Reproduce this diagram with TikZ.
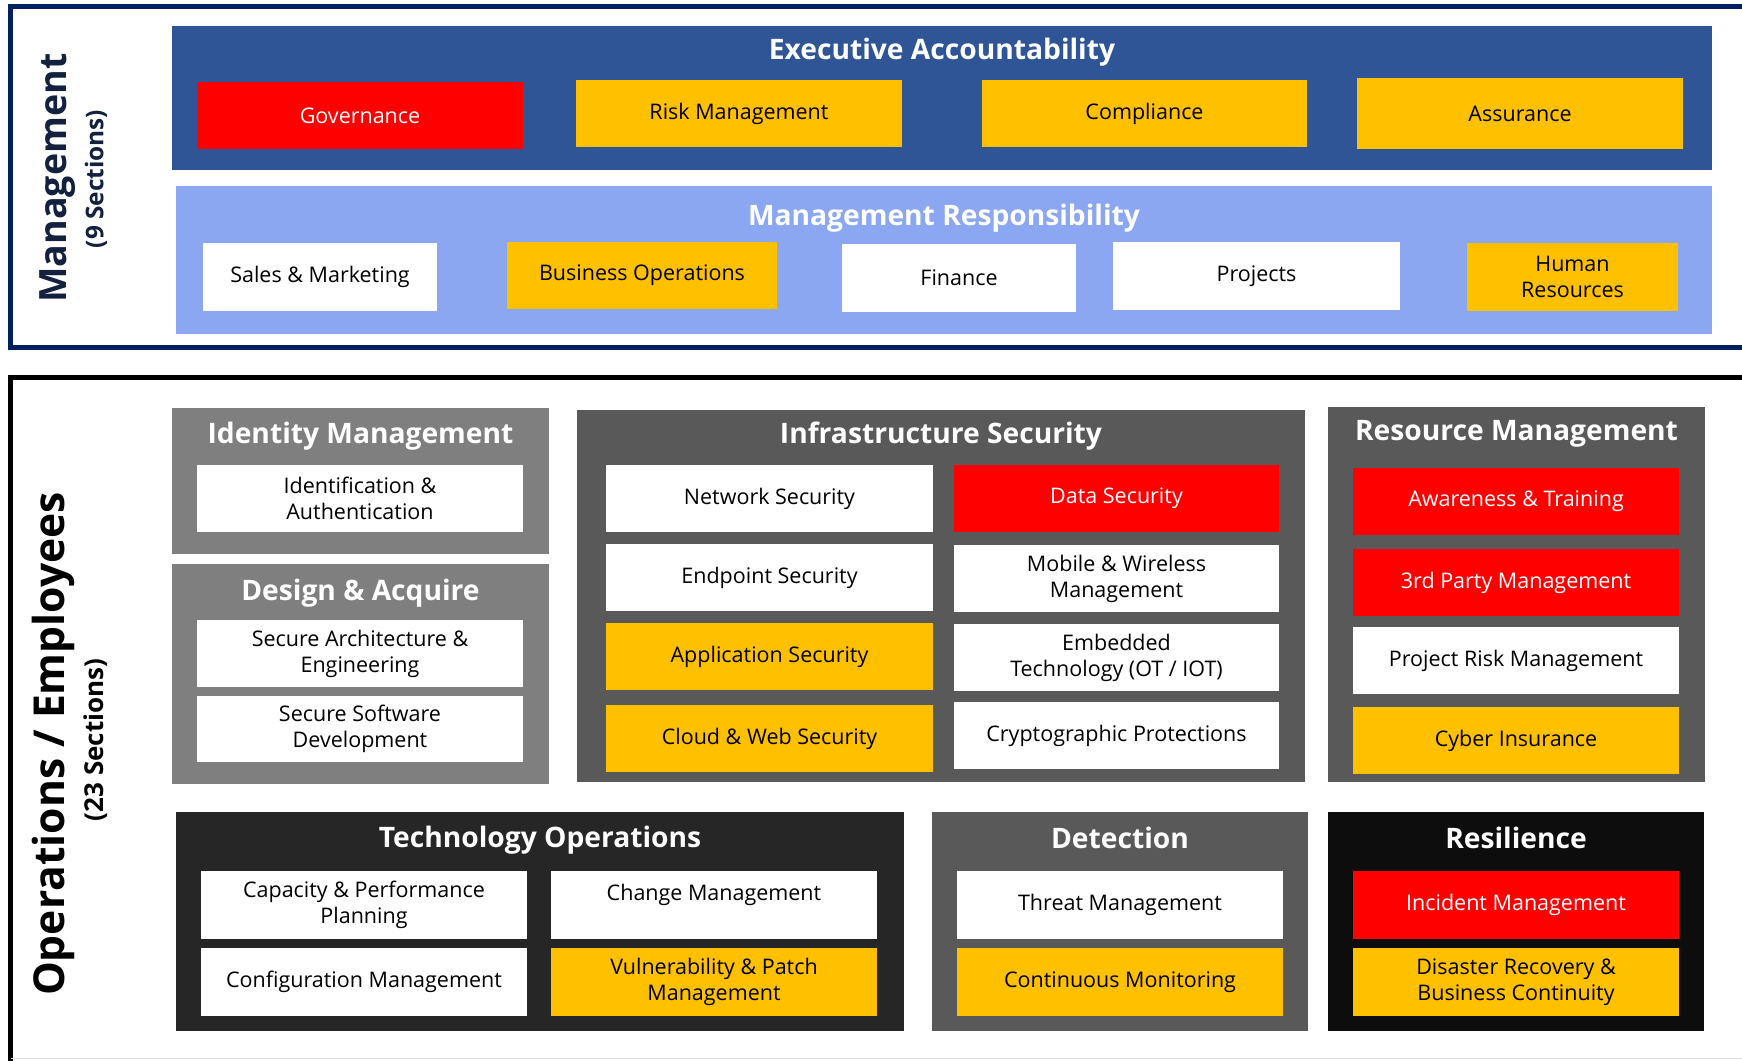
\documentclass[tikz,border=0pt]{standalone}
\usepackage{fontspec}
\setmainfont{Open Sans}
\usetikzlibrary{positioning}
\definecolor{framenavy}{HTML}{002060}
\definecolor{labelnavy}{HTML}{13213F}
\definecolor{execblue}{HTML}{2F5597}
\definecolor{respblue}{HTML}{8BA7F2}
\definecolor{alertred}{HTML}{FF0000}
\definecolor{amber}{HTML}{FFC000}
\definecolor{midgray}{HTML}{7F7F7F}
\definecolor{darkgray}{HTML}{595959}
\definecolor{coalgray}{HTML}{262626}
\definecolor{nearblack}{HTML}{0D0D0D}
\tikzset{
  cellbox/.style={fill=white, text=black, inner sep=0pt, align=center,
    minimum width=326pt, minimum height=67pt,
    font=\fontsize{21.5}{26}\selectfont},
  redbox/.style={cellbox, fill=alertred, text=white},
  yellowbox/.style={cellbox, fill=amber},
  panel/.style={inner sep=0pt, minimum width=377pt, minimum height=219pt},
  paneltitle/.style={text=white, inner sep=0pt,
    font=\bfseries\fontsize{28.2}{33}\selectfont},
  sidelabel/.style={rotate=90, inner sep=0pt, font=\bfseries\fontsize{37.6}{42}\selectfont},
  sidenote/.style={rotate=90, inner sep=0pt, font=\bfseries\fontsize{24.4}{28}\selectfont}
}
\begin{document}
\begin{tikzpicture}[x=1pt, y=-1pt]
  \useasboundingbox (0,0) rectangle (1742,1060);
  \clip (0,0) rectangle (1742,1060);
  % outer frames
  \draw[framenavy, line width=5pt] (1760,6.5) -- (10,6.5) -- (10,347.5) -- (1760,347.5);
  \draw[black, line width=5pt] (1760,377) -- (10.5,377) -- (10.5,1070);
  \draw[black!13, line width=1.5pt] (10.5,1058.5) -- (1742,1058.5);
  \node[sidelabel, text=labelnavy] (mgmtlabel) at (58,178) {Management};
  \node[sidenote, text=labelnavy] (mgmtnote) at (96,179) {(9 Sections)};
  \node[sidelabel, font=\bfseries\fontsize{42.6}{46}\selectfont] (opslabel) at (53,744) {Operations / Employees};
  \node[sidenote, font=\bfseries\fontsize{26}{30}\selectfont] (opsnote) at (96,740) {(23 Sections)};

  % executive accountability
  \node[panel, fill=execblue, minimum width=1540pt, minimum height=144pt] (exec) at (942,98) {};
  \node[paneltitle] (exectitle) at ([yshift=-26pt]exec.north) {Executive Accountability};
  \node[redbox] (governance) at (360,115.5) {Governance};
  \node[yellowbox] (risk) at (739,113.5) {Risk Management};
  \node[yellowbox, minimum width=325pt] (compliance) at (1144.5,113.5) {Compliance};
  \node[yellowbox, minimum height=71pt] (assurance) at (1520,113.5) {Assurance};

  % management responsibility
  \node[panel, fill=respblue, minimum width=1536pt, minimum height=148pt] (resp) at (944,260) {};
  \node[paneltitle] (resptitle) at ([yshift=-32pt]resp.north) {Management Responsibility};
  \node[cellbox, minimum width=234pt, minimum height=68pt] (sales) at (320,277) {Sales \& Marketing};
  \node[yellowbox, minimum width=270pt] (busops) at (642,275.5) {Business Operations};
  \node[cellbox, minimum width=234pt, minimum height=68pt] (finance) at (959,278) {Finance};
  \node[cellbox, minimum width=287pt, minimum height=68pt] (projects) at (1256.5,276) {Projects};
  \node[yellowbox, minimum width=211pt, minimum height=68pt] (hr) at (1572.5,277) {Human\\Resources};

  % identity management
  \node[panel, fill=midgray, minimum height=146pt] (identity) at (360.5,481) {};
  \node[paneltitle] (identitytitle) at ([yshift=-28pt]identity.north) {Identity Management};
  \node[cellbox] (idauth) at (360,498.5) {Identification \&\\Authentication};

  % design & acquire
  \node[panel, fill=midgray, minimum height=220pt] (design) at (360.5,674) {};
  \node[paneltitle] (designtitle) at ([yshift=-29pt]design.north) {Design \& Acquire};
  \node[cellbox] (secarch) at (360,653.5) {Secure Architecture \&\\Engineering};
  \node[cellbox, minimum height=66pt] (secsw) at (360,729) {Secure Software\\Development};

  % infrastructure security
  \node[panel, fill=darkgray, minimum width=728pt, minimum height=372pt] (infra) at (941,596) {};
  \node[paneltitle] (infratitle) at ([yshift=-26pt]infra.north) {Infrastructure Security};
  \node[cellbox, minimum width=327pt] (network) at (769.5,498.5) {Network Security};
  \node[cellbox, minimum width=327pt] (endpoint) at (769.5,577.5) {Endpoint Security};
  \node[yellowbox, minimum width=327pt] (appsec) at (769.5,656.5) {Application Security};
  \node[yellowbox, minimum width=327pt] (cloud) at (769.5,738.5) {Cloud \& Web Security};
  \node[redbox, minimum width=325pt] (datasec) at (1116.5,498.5) {Data Security};
  \node[cellbox, minimum width=325pt] (mobile) at (1116.5,578.5) {Mobile \& Wireless\\Management};
  \node[cellbox, minimum width=325pt] (embedded) at (1116.5,657.5) {Embedded\\Technology (OT / IOT)};
  \node[cellbox, minimum width=325pt] (crypto) at (1116.5,735.5) {Cryptographic Protections};

  % resource management
  \node[panel, fill=darkgray, minimum height=375pt] (resource) at (1516.5,594.5) {};
  \node[paneltitle] (resourcetitle) at ([yshift=-27pt]resource.north) {Resource Management};
  \node[redbox] (awareness) at (1516,501.5) {Awareness \& Training};
  \node[redbox] (thirdparty) at (1516,582.5) {3rd Party Management};
  \node[cellbox] (projrisk) at (1516,660.5) {Project Risk Management};
  \node[yellowbox] (cyber) at (1516,740.5) {Cyber Insurance};

  % technology operations
  \node[panel, fill=coalgray, minimum width=728pt] (techops) at (540,921.5) {};
  \node[paneltitle] (techopstitle) at ([yshift=-28pt]techops.north) {Technology Operations};
  \node[cellbox, minimum height=68pt] (capacity) at (364,905) {Capacity \& Performance\\Planning};
  \node[cellbox, minimum height=68pt] (change) at (714,905) {Change Management\\~};
  \node[cellbox, minimum height=68pt] (config) at (364,982) {Configuration Management};
  \node[yellowbox, minimum height=68pt] (vuln) at (714,982) {Vulnerability \& Patch\\Management};

  % detection
  \node[panel, fill=darkgray, minimum width=376pt] (detection) at (1120,921.5) {};
  \node[paneltitle] (detectiontitle) at ([yshift=-26pt]detection.north) {Detection};
  \node[cellbox, minimum height=68pt] (threat) at (1120,905) {Threat Management};
  \node[yellowbox, minimum height=68pt] (monitoring) at (1120,982) {Continuous Monitoring};

  % resilience
  \node[panel, fill=nearblack, minimum width=376pt] (resilience) at (1516,921.5) {};
  \node[paneltitle] (resiliencetitle) at ([yshift=-26pt]resilience.north) {Resilience};
  \node[redbox, minimum height=68pt] (incident) at (1516,905) {Incident Management};
  \node[yellowbox, minimum height=68pt] (disaster) at (1516,982) {Disaster Recovery \&\\Business Continuity};
\end{tikzpicture}
\end{document}
